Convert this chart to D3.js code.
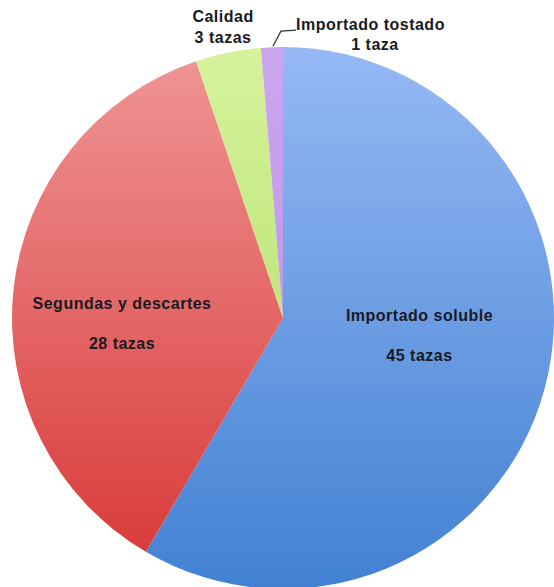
<!DOCTYPE html>
<html>
<head>
<meta charset="utf-8">
<script src="https://cdn.jsdelivr.net/npm/d3@7"></script>
<style>
  html, body { margin: 0; padding: 0; background: #fff; }
  text { font-family: "Liberation Sans", Arial, sans-serif; font-weight: bold; fill: #1a1a22; letter-spacing: 0.5px; }
</style>
</head>
<body>
<svg id="chart"></svg>
<script>
const categories = ["Importado soluble", "Segundas y descartes", "Calidad", "Importado tostado"];
const values = [45, 28, 3, 1];
const valueLabels = ["45 tazas", "28 tazas", "3 tazas", "1 taza"];
// top / bottom gradient stops per slice
const colorsTop = ["#96b9f5", "#f09696", "#d6f39c", "#cba6f0"];
const colorsBottom = ["#4281d2", "#d83535", "#a9d95c", "#b389e0"];

const width = 554, height = 587;
const cx = 283, cy = 318, r = 271;

const svg = d3.select("#chart")
  .attr("width", width)
  .attr("height", height);

const data = categories.map((c, i) => ({name: c, value: values[i], label: valueLabels[i], i}));

const pie = d3.pie().sort(null).value(d => d.value);
const arcs = pie(data);

const arc = d3.arc().innerRadius(0).outerRadius(r);
const labelArc = d3.arc().innerRadius(r * 0.56).outerRadius(r * 0.56);
const outerArc = d3.arc().innerRadius(r + 30).outerRadius(r + 30);

// gradients live in the translated group's user space
const defs = svg.append("defs");
defs.selectAll("linearGradient")
  .data(data)
  .join("linearGradient")
  .attr("id", d => `grad${d.i}`)
  .attr("gradientUnits", "userSpaceOnUse")
  .attr("x1", 0).attr("x2", 0)
  .attr("y1", -r).attr("y2", r)
  .call(g => g.append("stop").attr("offset", 0).attr("stop-color", d => colorsTop[d.i]))
  .call(g => g.append("stop").attr("offset", 1).attr("stop-color", d => colorsBottom[d.i]));

const g = svg.append("g").attr("transform", `translate(${cx},${cy})`);

g.selectAll("path.slice")
  .data(arcs)
  .join("path")
  .classed("slice", true)
  .attr("d", arc)
  .attr("fill", d => `url(#grad${d.data.i})`);

// large slices: labels inside
const inside = arcs.filter(d => d.data.value > 10);
const insideLabel = g.selectAll("text.inside")
  .data(inside)
  .join("text")
  .classed("inside", true)
  .attr("text-anchor", "middle")
  .attr("font-size", 16)
  .attr("transform", d => {
    const [x, y] = labelArc.centroid(d);
    return `translate(${x - 10},${0.22 * y - 5.6})`;
  });
insideLabel.append("tspan").attr("x", 0).attr("y", 0).text(d => d.data.name);
insideLabel.append("tspan").attr("x", 0).attr("y", 40).text(d => d.data.label);

// Calidad: label directly outside
const calidad = arcs[2];
const cp = outerArc.centroid(calidad);
const calLabel = g.append("text")
  .attr("text-anchor", "middle")
  .attr("font-size", 16)
  .attr("transform", `translate(${cp[0] + 1},${cp[1] - 1})`);
calLabel.append("tspan").attr("x", 0).attr("y", 0).text(calidad.data.name);
calLabel.append("tspan").attr("x", 0).attr("y", 21).text(calidad.data.label);

// Importado tostado: label to the right with a leader line
const tost = arcs[3];
const edge = d3.arc().innerRadius(r).outerRadius(r).centroid(tost);
const bend = [edge[0] + 9, edge[1] - 16];
const endP = [bend[0] + 15, bend[1] - 1];
g.append("path")
  .attr("d", d3.line()([[edge[0] + 1, edge[1] - 1], bend, endP]))
  .attr("fill", "none")
  .attr("stroke", "#333")
  .attr("stroke-width", 1.3);
const tLabel = g.append("text")
  .attr("text-anchor", "middle")
  .attr("font-size", 16)
  .attr("transform", `translate(${endP[0] + 74.5},${bend[1] - 1})`);
tLabel.append("tspan").attr("x", 0).attr("y", 0).text(tost.data.name);
tLabel.append("tspan").attr("x", 4.5).attr("y", 20).text(tost.data.label);
</script>
</body>
</html>
